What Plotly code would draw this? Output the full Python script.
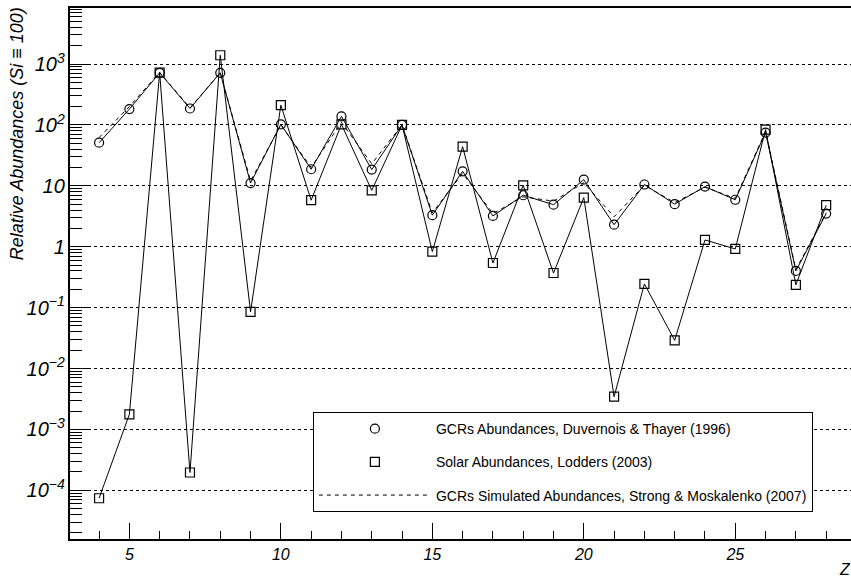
import plotly.graph_objects as go

Z = list(range(4, 29))
gcr_duvernois = [51, 182, 718, 186, 718, 11.1, 102, 18.7, 138, 18.5, 100, 3.3, 17.3, 3.2,
                 7.0, 4.9, 12.6, 2.3, 10.5, 5.0, 9.7, 5.9, 75, 0.40, 3.5]
solar_lodders = [7.4e-5, 1.77e-3, 720, 1.96e-4, 1393, 0.085, 211, 5.8, 102, 8.4, 100, 0.83,
                 44, 0.54, 10.2, 0.37, 6.4, 3.45e-3, 0.245, 0.029, 1.29, 0.92, 84, 0.237, 4.8]
gcr_simulated = [62, 200, 730, 190, 720, 12, 100, 20, 110, 23, 100, 3.6, 16, 3.5,
                 6.6, 5.6, 11.2, 3.1, 10.2, 5.3, 9.5, 6.2, 78, 0.42, 3.6]

names = ["GCRs Abundances, Duvernois & Thayer (1996)",
         "Solar Abundances, Lodders (2003)",
         "GCRs Simulated Abundances, Strong & Moskalenko (2007)"]

FONT = "Liberation Sans, Arial, sans-serif"
XRANGE = [3.04, 28.82]
YRANGE = [-4.80, 3.92]

# minor tick positions (axis decoration only)
x_minor_ticks = list(range(3, 29))
y_minor_ticks = [m * 10.0 ** d for d in range(-5, 4) for m in range(2, 10)
                 if 10 ** YRANGE[0] <= m * 10.0 ** d <= 10 ** YRANGE[1]]

fig = go.Figure()
fig.add_trace(go.Scatter(x=Z, y=gcr_duvernois, mode="lines", line=dict(color="black", width=1),
                         showlegend=False, hoverinfo="skip"))
fig.add_trace(go.Scatter(x=Z, y=solar_lodders, mode="lines", line=dict(color="black", width=1),
                         showlegend=False, hoverinfo="skip"))
# simulated curve sits on twin axes (identical ranges) that carry the minor ticks
fig.add_trace(go.Scatter(x=Z, y=gcr_simulated, mode="lines", name=names[2],
                         xaxis="x2", yaxis="y2",
                         line=dict(color="black", width=1, dash="4px,4px"),
                         legendgroup="c", legendrank=3))
fig.add_trace(go.Scatter(x=Z, y=gcr_duvernois, mode="markers", name=names[0],
                         marker=dict(symbol="circle-open", size=9, color="black",
                                     line=dict(width=1.2, color="black")),
                         legendgroup="a", legendrank=1))
fig.add_trace(go.Scatter(x=Z, y=solar_lodders, mode="markers", name=names[1],
                         marker=dict(symbol="square-open", size=9, color="black",
                                     line=dict(width=1.2, color="black")),
                         legendgroup="b", legendrank=2))

fig.update_layout(
    width=851, height=580,
    margin=dict(l=70, r=0, t=8, b=41),
    plot_bgcolor="white", paper_bgcolor="white",
    font=dict(family=FONT, color="black"),
    showlegend=True,
    legend=dict(x=0.311, y=0.239, xanchor="left", yanchor="top",
                bgcolor="white", bordercolor="black", borderwidth=1,
                font=dict(size=14, family=FONT), itemwidth=112,
                tracegroupgap=12, traceorder="grouped"),
    xaxis=dict(range=XRANGE, showline=True, linecolor="black", linewidth=2,
               ticks="inside", ticklen=16, tickcolor="black", tickwidth=1,
               tick0=0, dtick=5, showgrid=False, zeroline=False,
               tickfont=dict(size=16, style="italic", family=FONT)),
    yaxis=dict(type="log", range=YRANGE, showline=True, linecolor="black", linewidth=2,
               ticks="inside", ticklen=21, tickcolor="black", tickwidth=1,
               dtick=1, exponentformat="power",
               showgrid=True, gridcolor="black", gridwidth=1, griddash="dot", zeroline=False,
               tickfont=dict(size=16, style="italic", family=FONT)),
    xaxis2=dict(range=XRANGE, overlaying="x", side="bottom", anchor="y2",
                showline=True, linecolor="black", linewidth=2, mirror=True,
                showticklabels=False, showgrid=False, zeroline=False,
                ticks="inside", ticklen=8, tickcolor="black", tickwidth=1,
                tickmode="array", tickvals=x_minor_ticks),
    yaxis2=dict(type="log", range=YRANGE, overlaying="y", side="left", anchor="x2",
                showline=False, showticklabels=False, showgrid=False, zeroline=False,
                ticks="inside", ticklen=12, tickcolor="black", tickwidth=1,
                tickmode="array", tickvals=y_minor_ticks),
)

fig.add_annotation(text="Relative Abundances (Si \u2261 100)", xref="paper", yref="paper",
                   x=-0.068, y=1.006, xanchor="center", yanchor="top", textangle=-90,
                   showarrow=False, font=dict(size=18, style="italic", family=FONT))
fig.add_annotation(text="Z", xref="paper", yref="paper", x=0.992, y=-0.058,
                   xanchor="center", yanchor="middle", showarrow=False,
                   font=dict(size=16, style="italic", family=FONT))

fig.write_html("out.html")
